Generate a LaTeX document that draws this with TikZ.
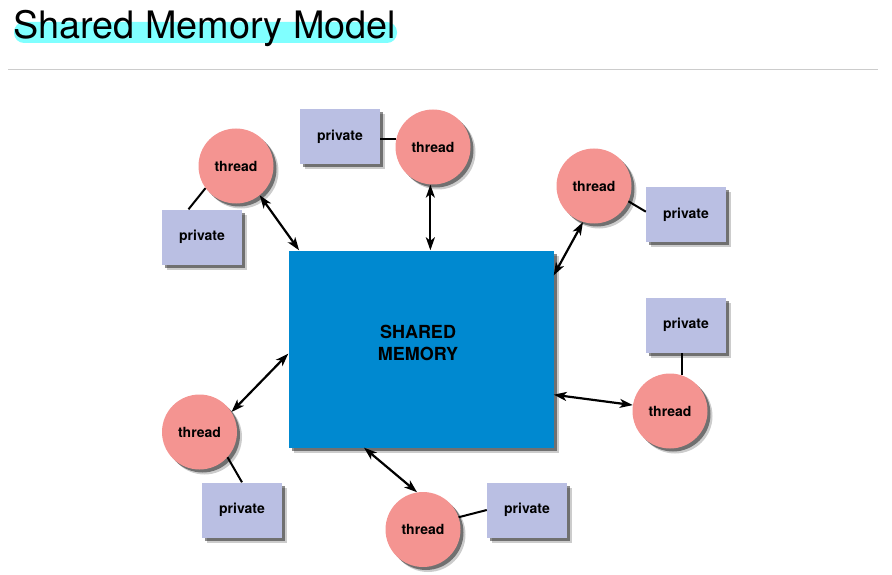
\documentclass[tikz,border=0pt]{standalone}
\usepackage{fontspec}
\setmainfont{TeX Gyre Heros}
\usepackage{tikz}
\usetikzlibrary{shadows,arrows.meta}

\definecolor{memblue}{RGB}{0,137,208}
\definecolor{threadred}{RGB}{244,148,145}
\definecolor{privblue}{RGB}{186,191,227}
\definecolor{hilite}{RGB}{128,255,255}
\definecolor{rulegray}{RGB}{204,204,204}

\begin{document}
\begin{tikzpicture}[x=1pt,y=-1pt,
    boxshadow/.style={drop shadow={shadow xshift=5pt,shadow yshift=-5pt,opacity=0.2,fill=black},
      drop shadow={shadow xshift=3pt,shadow yshift=-3pt,opacity=0.45,fill=black}},
    thread/.style={circle,fill=threadred,minimum size=75pt,inner sep=0pt,boxshadow,
      font=\fontsize{14}{16}\selectfont\bfseries},
    privbox/.style={rectangle,fill=privblue,minimum width=80pt,minimum height=55pt,inner sep=0pt,boxshadow,
      font=\fontsize{14}{16}\selectfont\bfseries},
    membox/.style={rectangle,fill=memblue,minimum width=265pt,minimum height=197pt,boxshadow},
    link/.style={line width=2pt},
    access/.style={line width=2.2pt,{Stealth[length=13pt,width=9pt,inset=3.5pt]}-{Stealth[length=13pt,width=9pt,inset=3.5pt]}}]
    \useasboundingbox (0,0) rectangle (892,575);

    % heading
    \fill[hilite,rounded corners=10pt] (14,22) rectangle (397,43);
    \node[anchor=base west,inner sep=0pt,font=\fontsize{37.8}{40}\selectfont] (title) at (13,39) {Shared Memory Model};
    \draw[rulegray,line width=1pt] (8,70) -- (878,70);

    % shared memory
    \node[membox] (mem) at (421,349) {};
    \node[align=center,font=\fontsize{18}{22}\selectfont\bfseries] (memtext) at (418,343) {SHARED\\MEMORY};

    % threads and their private memory
    \node[thread] (t1) at (236,166) {thread};
    \node[thread] (t2) at (433,147) {thread};
    \node[thread] (t3) at (594,186) {thread};
    \node[thread] (t4) at (670,411) {thread};
    \node[thread] (t5) at (199.5,432) {thread};
    \node[thread] (t6) at (423,529.5) {thread};

    \node[privbox] (p1) at (202,237) {private};
    \node[privbox] (p2) at (340,136.5) {private};
    \node[privbox] (p3) at (686,214.5) {private};
    \node[privbox] (p4) at (686,325) {private};
    \node[privbox] (p5) at (242,510) {private};
    \node[privbox] (p6) at (527,510) {private};

    \draw[link] (p1.116) -- (t1.216);
    \draw[link] (t2.167) -- (t2.167 -| p2.east);
    \draw[link] (t3.336) -- (p3.176);
    \draw[link] (t4.72) -- (t4.72 |- p4.south);
    \draw[link] (t5.-42) -- (p5.north);
    \draw[link] (t6.19) -- (p6.west);

    % access to shared memory
    \draw[access] (mem.141) -- (t1.309);
    \draw[access] (t2.266 |- mem.north) -- (t2.266);
    \draw[access] (mem.29) -- (t3.253);
    \draw[access] (mem.341) -- (t4.171);
    \draw[access] (mem.182) -- (t5.32);
    \draw[access] (mem.240) -- (t6.99);
\end{tikzpicture}
\end{document}
